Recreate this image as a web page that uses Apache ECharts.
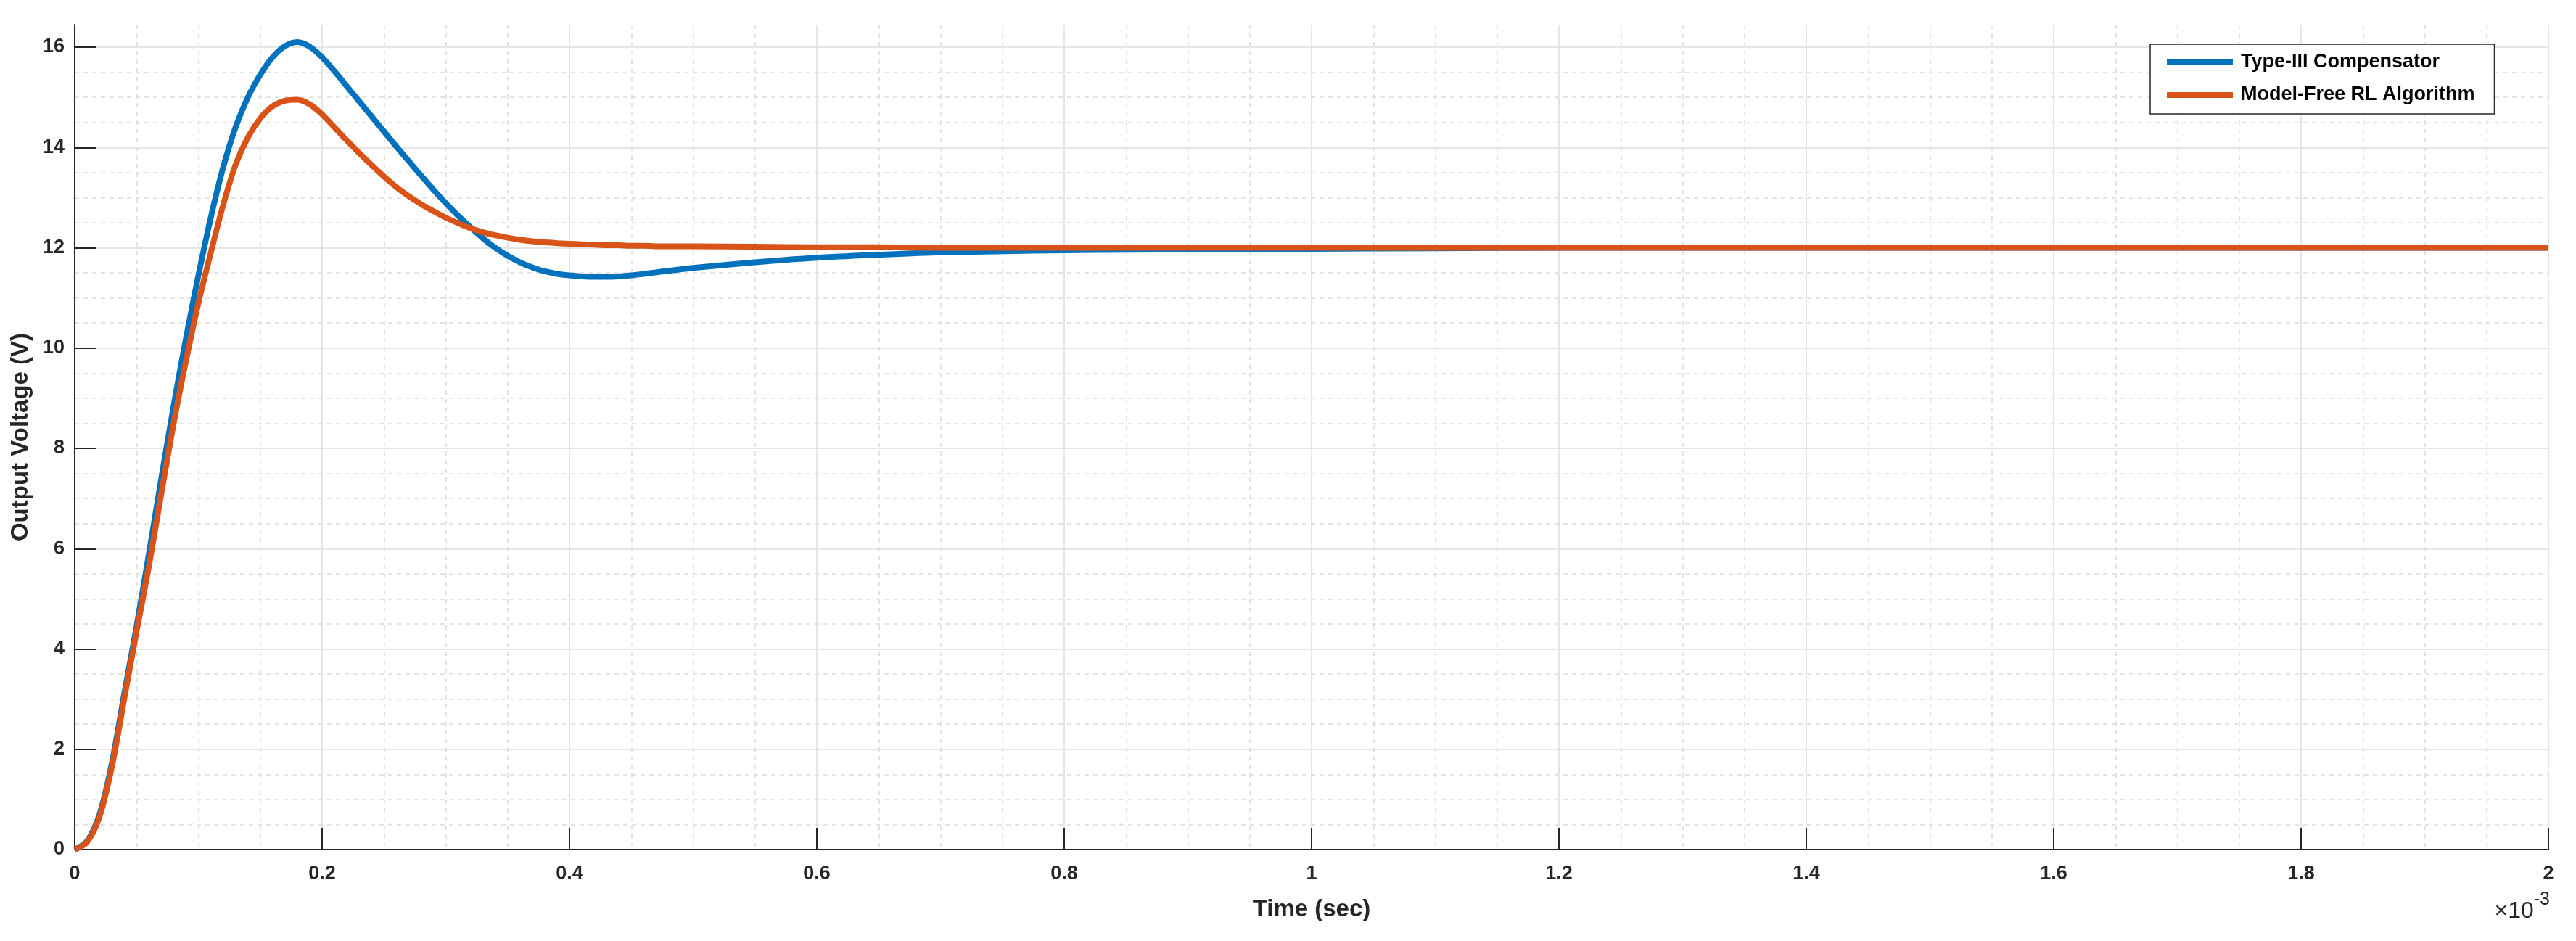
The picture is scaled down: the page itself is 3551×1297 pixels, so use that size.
<!DOCTYPE html>
<html>
<head>
<meta charset="utf-8">
<title>Output Voltage</title>
<script src="https://cdn.jsdelivr.net/npm/echarts@6/dist/echarts.min.js"></script>
<style>
  html, body { margin: 0; padding: 0; background: #fff; }
  #chart { width: 3551px; height: 1297px; }
</style>
</head>
<body>
<div id="chart"></div>
<script>
// time in ms (axis shows x 10^-3 sec)
const timeMs = [
  0.00, 0.01, 0.02, 0.03, 0.04, 0.05, 0.06, 0.07, 0.08, 0.09,
  0.10, 0.11, 0.12, 0.13, 0.14, 0.15, 0.16, 0.17, 0.18, 0.19,
  0.20, 0.21, 0.22, 0.23, 0.24, 0.25, 0.26, 0.27, 0.28, 0.29,
  0.30, 0.31, 0.32, 0.33, 0.34, 0.35, 0.36, 0.37, 0.38, 0.39,
  0.40, 0.41, 0.42, 0.43, 0.44, 0.45, 0.46, 0.47, 0.48, 0.49, 0.50,
  0.55, 0.60, 0.65, 0.70, 0.75, 0.80, 0.85, 0.90, 0.95, 1.00,
  1.10, 1.20, 1.30, 1.40, 1.50, 1.60, 1.70, 1.80, 1.90, 2.00
];

const type3Voltage = [
  0, 0.17, 0.70, 1.72, 3.10, 4.45, 5.90, 7.40, 8.85, 10.20,
  11.45, 12.60, 13.60, 14.40, 15.00, 15.45, 15.80, 16.02, 16.10, 16.01,
  15.80, 15.52, 15.22, 14.92, 14.62, 14.32, 14.02, 13.73, 13.44, 13.16,
  12.89, 12.64, 12.41, 12.19, 12.00, 11.84, 11.71, 11.61, 11.53, 11.48,
  11.45, 11.43, 11.42, 11.42, 11.43, 11.45, 11.48, 11.51, 11.54, 11.57, 11.60,
  11.71, 11.80, 11.86, 11.91, 11.93, 11.95, 11.96, 11.97, 11.975, 11.98,
  11.99, 12.0, 12.0, 12.0, 12.0, 12.0, 12.0, 12.0, 12.0, 12.0
];

const rlVoltage = [
  0, 0.15, 0.65, 1.65, 3.00, 4.35, 5.65, 7.10, 8.50, 9.75,
  10.90, 11.90, 12.85, 13.65, 14.20, 14.58, 14.82, 14.93, 14.95, 14.86,
  14.66, 14.40, 14.14, 13.89, 13.65, 13.42, 13.21, 13.03, 12.87, 12.73,
  12.60, 12.49, 12.39, 12.31, 12.25, 12.20, 12.16, 12.13, 12.11, 12.09,
  12.08, 12.07, 12.06, 12.05, 12.05, 12.04, 12.04, 12.03, 12.03, 12.03, 12.03,
  12.02, 12.01, 12.01, 12.0, 12.0, 12.0, 12.0, 12.0, 12.0, 12.0,
  12.0, 12.0, 12.0, 12.0, 12.0, 12.0, 12.0, 12.0, 12.0, 12.0
];

const seriesNames = ['Type-III Compensator', 'Model-Free RL Algorithm'];
const seriesColors = ['#0072BD', '#D95319'];

const font = "'Liberation Sans', Arial, Helvetica, sans-serif";
const axisColor = '#262626';
const gridColor = '#dcdcdc';

const chart = echarts.init(document.getElementById('chart'), null, { renderer: 'canvas' });

const toPairs = (ys) => timeMs.map((t, i) => [t, ys[i]]);

const option = {
  backgroundColor: '#ffffff',
  animation: false,
  textStyle: { fontFamily: font },
  grid: [
    // outer box: axis lines reach a bit above 16
    { left: 103, right: 38, top: 34, bottom: 126 },
    // 0..16 range for y grid lines, ticks and labels
    { left: 103, right: 38, top: 65, bottom: 126 }
  ],
  xAxis: [
    {
      gridIndex: 0,
      type: 'value',
      min: 0,
      max: 2,
      interval: 0.2,
      name: 'Time (sec)',
      nameLocation: 'middle',
      nameGap: 66,
      nameTextStyle: { fontSize: 33, fontWeight: 'bold', color: axisColor, fontFamily: font },
      axisLine: { show: true, onZero: false, lineStyle: { color: axisColor, width: 2 } },
      axisTick: { show: true, inside: true, length: 30, lineStyle: { color: axisColor, width: 2 } },
      axisLabel: { fontSize: 27, fontWeight: 'bold', color: axisColor, margin: 20, fontFamily: font },
      splitLine: { show: true, lineStyle: { color: gridColor, width: 1.5 } },
      minorTick: { show: false, splitNumber: 4 },
      minorSplitLine: { show: true, lineStyle: { color: gridColor, width: 1.5, type: [6, 6] } }
    },
    {
      gridIndex: 1,
      type: 'value',
      min: 0,
      max: 2,
      show: false
    }
  ],
  yAxis: [
    {
      gridIndex: 0,
      type: 'value',
      min: 0,
      max: 16.45,
      name: 'Output Voltage (V)',
      nameLocation: 'middle',
      nameGap: 58,
      nameTextStyle: { fontSize: 33, fontWeight: 'bold', color: axisColor, fontFamily: font },
      axisLine: { show: true, onZero: false, lineStyle: { color: axisColor, width: 2 } },
      axisTick: { show: false },
      axisLabel: { show: false },
      splitLine: { show: false }
    },
    {
      gridIndex: 1,
      type: 'value',
      min: 0,
      max: 16,
      interval: 2,
      axisLine: { show: false },
      axisTick: { show: true, inside: true, length: 30, lineStyle: { color: axisColor, width: 2 } },
      axisLabel: { fontSize: 27, fontWeight: 'bold', color: axisColor, margin: 14, fontFamily: font },
      splitLine: { show: true, lineStyle: { color: gridColor, width: 1.5 } },
      minorTick: { show: false, splitNumber: 4 },
      minorSplitLine: { show: true, lineStyle: { color: gridColor, width: 1.5, type: [6, 6] } }
    }
  ],
  legend: {
    orient: 'vertical',
    left: 2964,
    top: 61,
    align: 'left',
    padding: [10, 27, 11, 23],
    itemGap: 15,
    itemWidth: 91,
    itemHeight: 8,
    icon: 'rect',
    borderColor: axisColor,
    borderWidth: 1.5,
    backgroundColor: '#ffffff',
    textStyle: {
      fontSize: 27,
      fontWeight: 'bold',
      color: '#000',
      lineHeight: 30,
      padding: [0, 0, 0, 6],
      fontFamily: font
    },
    data: seriesNames
  },
  graphic: [
    {
      type: 'text',
      right: 36,
      top: 1228,
      style: {
        text: '{a|\u00d710}{b|-3}',
        rich: {
          a: { fontSize: 32, fill: axisColor, fontFamily: font, padding: [12, 0, 0, 0] },
          b: { fontSize: 25, fill: axisColor, fontFamily: font, verticalAlign: 'top' }
        }
      }
    }
  ],
  series: [
    {
      name: seriesNames[0],
      type: 'line',
      xAxisIndex: 1,
      yAxisIndex: 1,
      clip: false,
      data: toPairs(type3Voltage),
      showSymbol: false,
      smooth: 0.3,
      color: seriesColors[0],
      lineStyle: { width: 8, color: seriesColors[0] }
    },
    {
      name: seriesNames[1],
      type: 'line',
      xAxisIndex: 1,
      yAxisIndex: 1,
      clip: false,
      data: toPairs(rlVoltage),
      showSymbol: false,
      smooth: 0.3,
      color: seriesColors[1],
      lineStyle: { width: 8, color: seriesColors[1] }
    }
  ]
};

chart.setOption(option);
</script>
</body>
</html>
